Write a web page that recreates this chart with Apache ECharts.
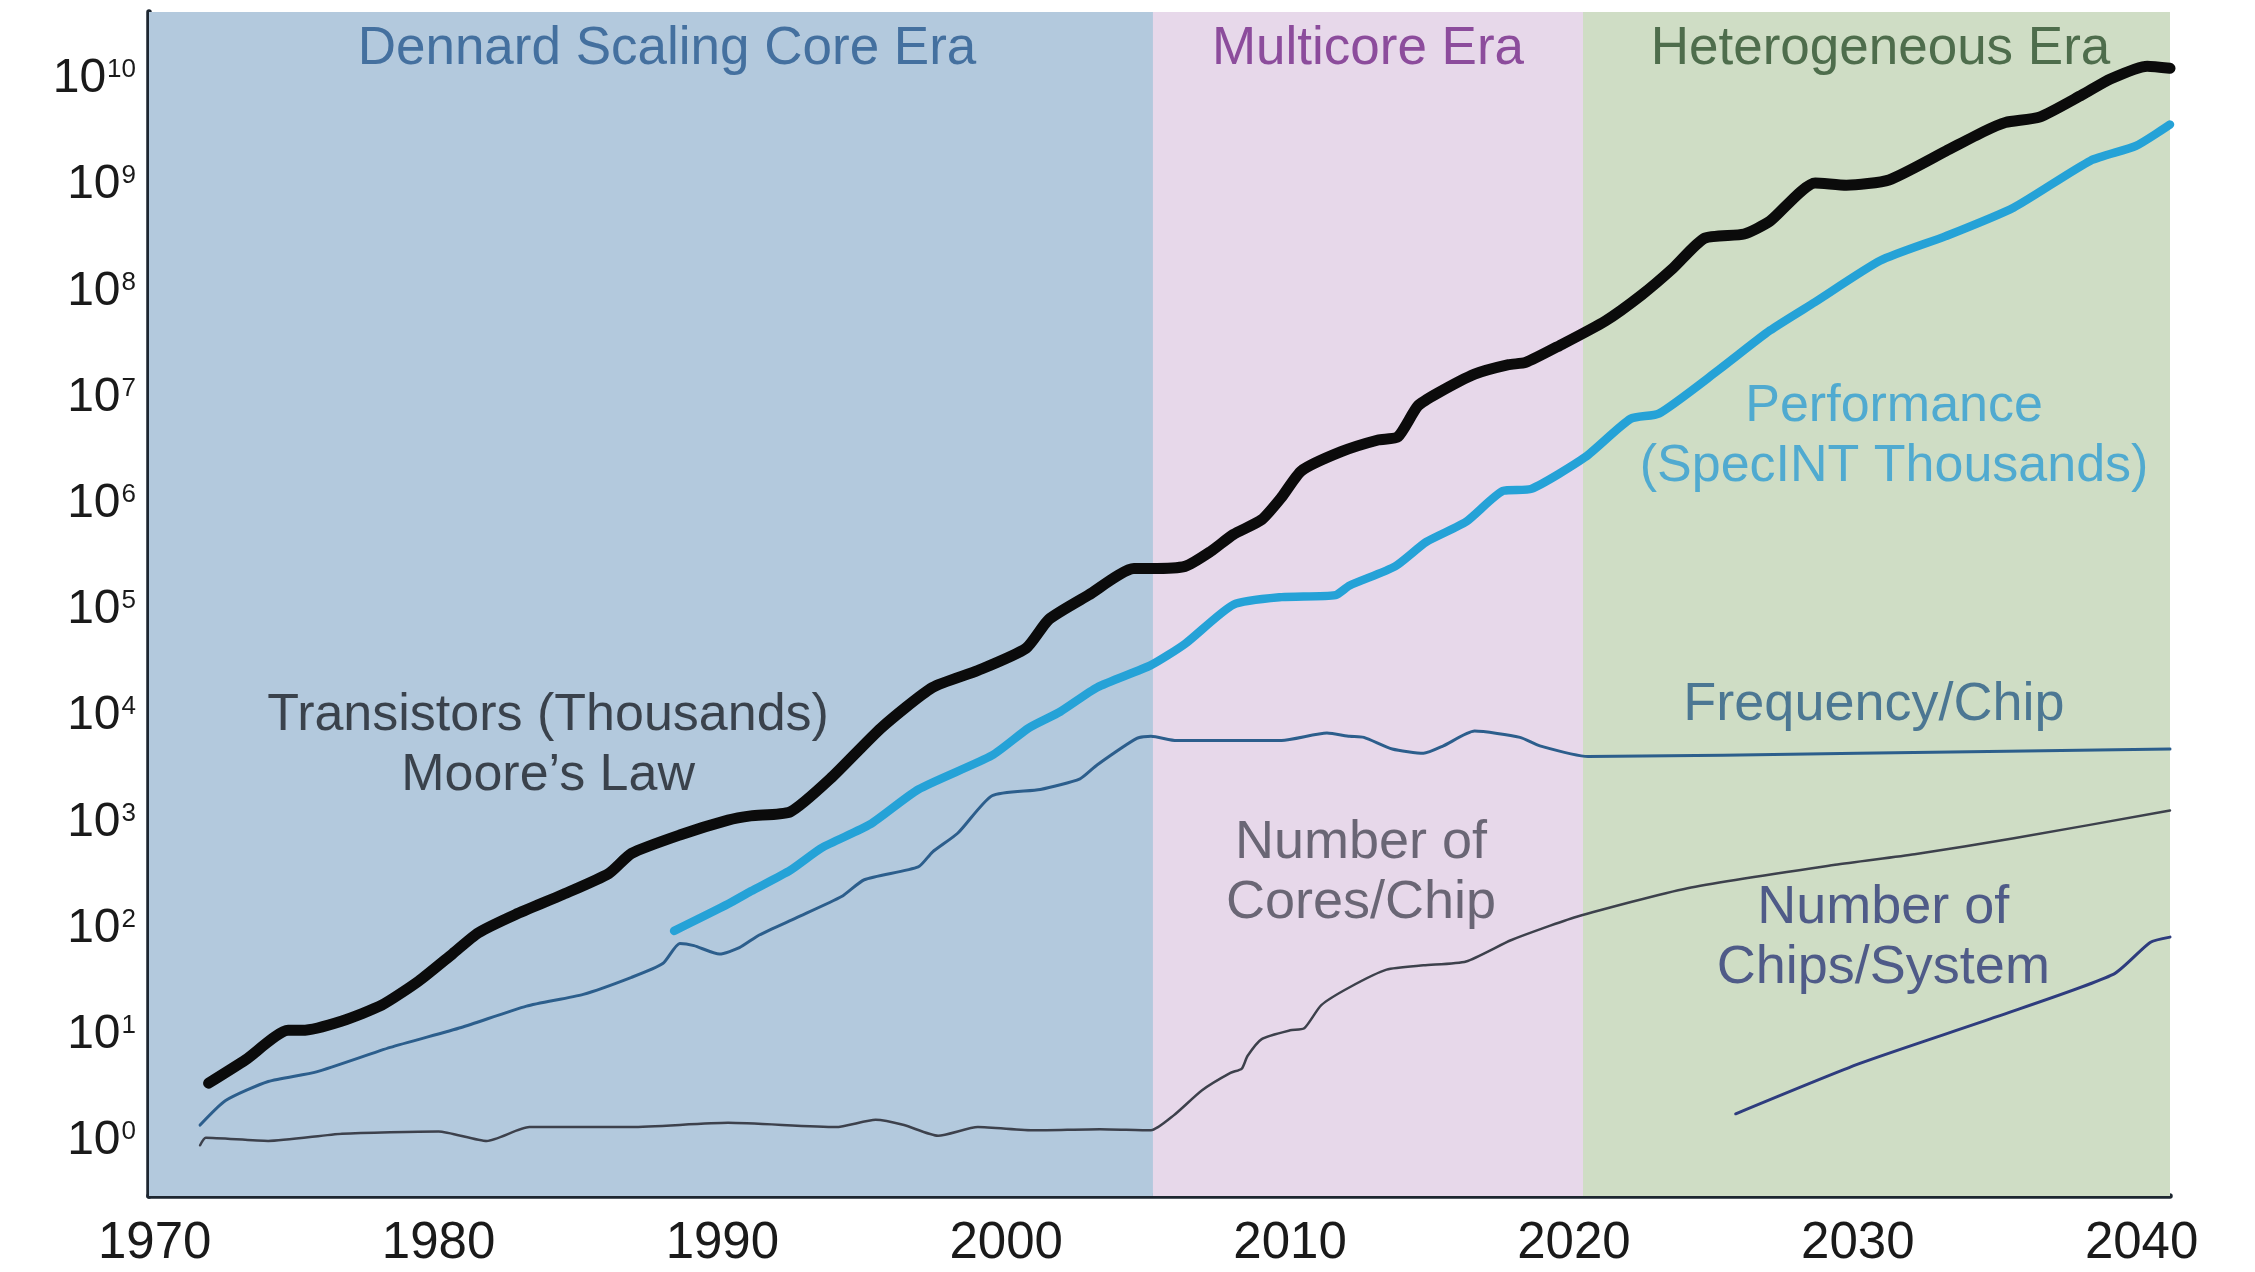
<!DOCTYPE html>
<html>
<head>
<meta charset="utf-8">
<title>Transistors, Performance, Frequency and Cores, 1970–2040</title>
<script src="https://cdn.jsdelivr.net/npm/echarts@6/dist/echarts.min.js"></script>
<style>
  html, body { margin: 0; padding: 0; background: #ffffff; }
  #chart { width: 2255px; height: 1272px; }
</style>
</head>
<body>
<div id="chart"></div>
<script>
// ---- data ---------------------------------------------------------------
const xTickYears = [1970, 1980, 1990, 2000, 2010, 2020, 2030, 2040];
const yTickValues = [1, 10, 1e2, 1e3, 1e4, 1e5, 1e6, 1e7, 1e8, 1e9, 1e10];

const eraNames = ['Dennard Scaling Core Era', 'Multicore Era', 'Heterogeneous Era'];
const eraStarts = [1969.8, 2005.17, 2020.32];
const eraEnds = [2005.17, 2020.32, 2041];

const transistorYears = [1971.9, 1973.2, 1974.7, 1975.2, 1976.6, 1978.0, 1979.3, 1980.5, 1981.4, 1982.7,
  1984.4, 1986.0, 1986.8, 1988.5, 1990.2, 1991.0, 1992.4, 1993.8, 1995.6, 1997.4,
  1999.0, 2000.7, 2001.5, 2002.9, 2004.5, 2005.1, 2006.3, 2007.2, 2008.0, 2009.0,
  2009.7, 2010.4, 2011.8, 2013.1, 2013.8, 2014.5, 2015.2, 2016.5, 2017.7, 2018.3,
  2019.5, 2021.1, 2022.4, 2023.5, 2024.6, 2026.0, 2026.9, 2028.5, 2029.6, 2031.1,
  2033.1, 2034.4, 2035.2, 2036.4, 2037.9, 2038.9, 2040.2, 2041.0];
const transistorValues = [3.5, 5.8, 11, 11, 13.5, 19, 32, 58, 91, 135,
  210, 330, 510, 760, 1050, 1150, 1260, 2570, 7760, 18600,
  26900, 43600, 81300, 1.38e5, 2.45e5, 2.45e5, 2.57e5, 3.55e5, 5.13e5, 7.08e5,
  1.15e6, 2.04e6, 3.09e6, 3.98e6, 4.27e6, 8.32e6, 1.1e7, 1.66e7, 2.04e7, 2.14e7,
  3.09e7, 5.25e7, 9.33e7, 1.66e8, 3.16e8, 3.47e8, 4.57e8, 1.05e9, 1.0e9, 1.12e9,
  2.09e9, 3.16e9, 3.89e9, 4.37e9, 7.08e9, 1.0e10, 1.32e10, 1.26e10];

const performanceYears = [1988.3, 1990.2, 1991.0, 1992.4, 1993.5, 1995.2, 1996.9, 1999.5, 2000.8, 2001.9,
  2003.2, 2005.1, 2006.3, 2008.0, 2009.7, 2011.6, 2012.1, 2013.7, 2014.8, 2016.2,
  2017.5, 2018.5, 2020.4, 2022.0, 2023.0, 2025.1, 2026.9, 2028.5, 2030.8, 2033.1,
  2035.5, 2038.2, 2039.8, 2041.0];
const performanceValues = [95, 170, 224, 355, 575, 955, 2040, 4270, 7760, 11000,
  18600, 30200, 47900, 1.12e5, 1.32e5, 1.38e5, 1.7e5, 2.57e5, 4.37e5, 6.76e5,
  1.32e6, 1.38e6, 2.75e6, 6.31e6, 7.08e6, 1.82e7, 4.27e7, 7.94e7, 1.95e8, 3.31e8,
  6.17e8, 1.7e9, 2.34e9, 3.72e9];

const frequencyYears = [1971.6, 1972.5, 1974.0, 1975.7, 1978.3, 1980.8, 1983.1, 1985.1, 1986.8, 1987.9,
  1988.5, 1989.0, 1989.9, 1990.6, 1991.3, 1992.6, 1994.2, 1995.0, 1996.9, 1997.4,
  1998.3, 1999.5, 2001.2, 2002.6, 2003.2, 2004.6, 2005.1, 2006.0, 2009.7, 2011.3,
  2012.1, 2012.6, 2013.6, 2014.7, 2015.4, 2016.5, 2018.1, 2018.8, 2020.5, 2030.0,
  2041.0];
const frequencyValues = [1.41, 2.4, 3.63, 4.47, 7.6, 11.7, 18.6, 24, 34.7, 46.8,
  72.4, 69, 57.5, 66, 87, 126, 200, 288, 380, 525,
  794, 1780, 2040, 2570, 3470, 6170, 6460, 5890, 5890, 6920,
  6460, 6310, 4900, 4470, 5250, 7240, 6310, 5250, 4170, 4470,
  4900];

const coreYears = [1971.6, 1971.8, 1974.0, 1976.6, 1980.0, 1981.7, 1983.2, 1986.8, 1990.2, 1994.0,
  1995.4, 1996.4, 1997.6, 1999.0, 2001.0, 2003.3, 2005.1, 2005.9, 2006.9, 2007.9,
  2008.3, 2008.5, 2009.0, 2010.0, 2010.5, 2011.1, 2012.1, 2013.4, 2014.7, 2016.2,
  2017.8, 2020.1, 2024.0, 2029.2, 2032.0, 2035.5, 2041.0];
const coreValues = [0.91, 1.07, 1.0, 1.17, 1.23, 1.0, 1.35, 1.35, 1.48, 1.35,
  1.58, 1.41, 1.12, 1.35, 1.26, 1.29, 1.26, 1.74, 3.0, 4.37,
  4.8, 6.3, 9.1, 11, 11.5, 19, 28, 41, 45, 49,
  78, 129, 240, 398, 500, 708, 1290];

const chipYears = [2025.7, 2030.1, 2034.9, 2039.0, 2040.3, 2041.0];
const chipValues = [1.8, 5.4, 14.8, 37, 74, 83];

const noteTexts = ['Transistors (Thousands)\nMoore’s Law', 'Performance\n(SpecINT Thousands)',
  'Frequency/Chip', 'Number of\nCores/Chip', 'Number of\nChips/System'];
const noteYears = [1983.86, 2031.28, 2030.57, 2012.5, 2030.9];
const noteValues = [5290, 4.26e6, 12740, 330, 80.7];

// ---- styling ------------------------------------------------------------
const FONT = '"Liberation Sans", Arial, Helvetica, sans-serif';
const eraFill = ['#b3c9dd', '#e7d8ea', '#cfddc5'];
const eraText = ['#44709f', '#8c4c9c', '#4e6d4c'];
const eraLabelOffset = [[16, 0], [0, 0], [4, 0]];
const noteColors = ['#1b2128', '#2f9dd2', '#2b5e86', '#4b4a57', '#2e3b78'];
const noteFontSizes = [52, 52, 54, 54, 54];

const zip = (xs, ys) => xs.map((x, i) => [x, ys[i]]);

function lineSeries(name, xs, ys, color, width) {
  return {
    name: name,
    type: 'line',
    data: zip(xs, ys),
    symbol: 'none',
    smooth: 0.2,
    z: 3,
    silent: true,
    lineStyle: { color: color, width: width, cap: 'round', join: 'round' }
  };
}

const chart = echarts.init(document.getElementById('chart'), null, { renderer: 'canvas' });

chart.setOption({
  animation: false,
  backgroundColor: '#ffffff',
  grid: { left: 149, right: 85, top: 12, bottom: 76, outerBoundsMode: 'none' },
  xAxis: {
    type: 'value',
    min: 1969.8,
    max: 2041,
    axisLine: { show: true, lineStyle: { color: '#1d2630', width: 5.5 } },
    axisTick: { show: false },
    splitLine: { show: false },
    axisLabel: {
      customValues: xTickYears,
      formatter: v => String(Math.round(v)),
      margin: 22,
      fontSize: 51,
      fontFamily: FONT,
      color: '#1a1a1a'
    }
  },
  yAxis: {
    type: 'log',
    logBase: 10,
    min: 0.303,
    max: 4.27e10,
    axisLine: { show: true, lineStyle: { color: '#1d2630', width: 5.5 } },
    axisTick: { show: false },
    splitLine: { show: false },
    axisLabel: {
      customValues: yTickValues,
      margin: 13,
      formatter: function (v) {
        return '{b|10}{s|' + Math.round(Math.log10(v)) + '}';
      },
      rich: {
        b: { fontSize: 48, fontFamily: FONT, color: '#1a1a1a' },
        s: { fontSize: 26, fontFamily: FONT, color: '#1a1a1a', verticalAlign: 'top', padding: [2, 0, 0, 1] }
      }
    }
  },
  series: [
    {
      name: 'eras',
      type: 'line',
      data: [],
      z: 1,
      silent: true,
      markArea: {
        silent: true,
        data: eraNames.map((name, i) => [
          {
            name: name,
            xAxis: eraStarts[i],
            itemStyle: { color: eraFill[i] },
            label: {
              show: true,
              position: 'insideTop',
              distance: 11,
              offset: eraLabelOffset[i],
              fontSize: 53,
              fontFamily: FONT,
              color: eraText[i]
            }
          },
          { xAxis: eraEnds[i] }
        ])
      }
    },
    lineSeries('Number of Cores/Chip', coreYears, coreValues, '#3d414c', 2.5),
    lineSeries('Number of Chips/System', chipYears, chipValues, '#2e3c7e', 3),
    lineSeries('Frequency/Chip', frequencyYears, frequencyValues, '#2c5e8c', 3),
    lineSeries('Performance (SpecINT Thousands)', performanceYears, performanceValues, '#25a2d7', 8.5),
    lineSeries('Transistors (Thousands)', transistorYears, transistorValues, '#0b0b0b', 11),
    {
      name: 'notes',
      type: 'scatter',
      z: 5,
      silent: true,
      symbolSize: 1,
      itemStyle: { color: 'rgba(0,0,0,0)' },
      label: {
        show: true,
        position: 'inside',
        formatter: p => p.name,
        lineHeight: 60,
        fontFamily: FONT,
        align: 'center'
      },
      data: noteTexts.map((t, i) => ({
        name: t,
        value: [noteYears[i], noteValues[i]],
        label: { color: noteColors[i], fontSize: noteFontSizes[i] }
      }))
    }
  ]
});
</script>
</body>
</html>
